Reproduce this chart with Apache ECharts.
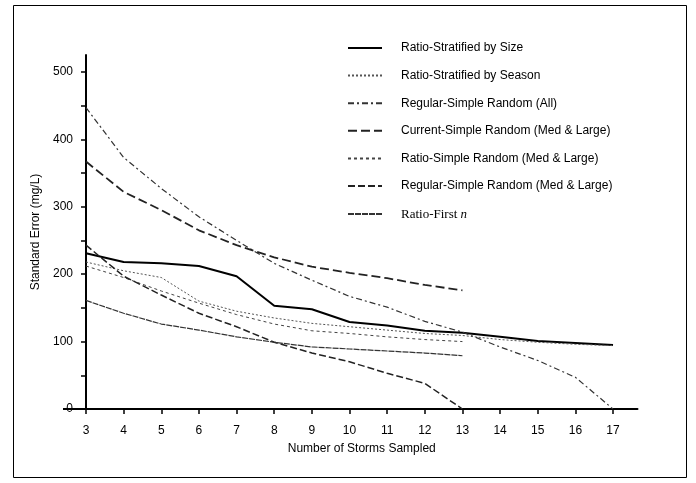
<!DOCTYPE html>
<html>
<head>
<meta charset="utf-8">
<script src="https://cdn.jsdelivr.net/npm/echarts@6/dist/echarts.min.js"></script>
<style>html,body{margin:0;padding:0;background:#fff;}#c{width:696px;height:483px;}</style>
</head>
<body>
<div id="c"></div>
<script>
const storms = [3,4,5,6,7,8,9,10,11,12,13,14,15,16,17];
const ratioStratSize   = [231,218,216,212,197,153,148,129,124,116,113,107,101,98,95];
const ratioStratSeason = [218,205,195,160,145,135,127,122,117,112,109,103,99,96,94];
const regularSRAll     = [447,373,327,285,250,216,191,167,151,130,114,92,72,47,0];
const currentSRML      = [367,322,295,265,243,225,211,202,194,184,176];
const ratioSRML        = [212,195,175,157,140,126,116,112,107,103,100];
const regularSRML      = [243,197,169,142,122,99,83,70,53,38,0];
const ratioFirstN      = [161,142,126,117,107,99,92,89,86,83,79];
const yTickValues  = [0,50,100,150,200,250,300,350,400,450,500];
const yLabelValues = [0,100,200,300,400,500];
const xTickValues  = [3,4,5,6,7,8,9,10,11,12,13,14,15,16,17];

function pairs(vals){ return vals.map((v,i)=>[storms[i], v]); }

const seriesDefs = [
  {name:'Ratio-Stratified by Size', data:ratioStratSize, color:'#000', width:2, type:'solid'},
  {name:'Ratio-Stratified by Season', data:ratioStratSeason, color:'#555', width:1, type:[2,2]},
  {name:'Regular-Simple Random (All)', data:regularSRAll, color:'#333', width:1.2, type:[6,3,2,3]},
  {name:'Current-Simple Random (Med & Large)', data:currentSRML, color:'#222', width:1.8, type:[9,4]},
  {name:'Ratio-Simple Random (Med & Large)', data:ratioSRML, color:'#444', width:1, type:[3,3]},
  {name:'Regular-Simple Random (Med & Large)', data:regularSRML, color:'#222', width:1.5, type:[7,3]},
  {name:'Ratio-First n', data:ratioFirstN, color:'#333', width:1.2, type:[6,1]}
];

const chart = echarts.init(document.getElementById('c'));
chart.setOption({
  backgroundColor:'#fff',
  animation:false,
  textStyle:{fontFamily:'Liberation Sans, Arial, sans-serif', color:'#000'},
  grid:{left:86, top:55, width:551.5, height:354, containLabel:false},
  legend:{
    orient:'vertical', left:342, top:37, itemWidth:34, itemHeight:14, itemGap:15.6,
    itemStyle:{opacity:0},
    textStyle:{fontSize:12, color:'#000', fontFamily:'Liberation Sans, Arial, sans-serif', padding:[0,0,0,14],
      rich:{s:{fontFamily:'Liberation Serif, Times New Roman, serif', fontSize:13, color:'#000'},
            i:{fontFamily:'Liberation Serif, Times New Roman, serif', fontSize:13, fontStyle:'italic', color:'#000'}}},
    formatter:function(n){ return n==='Ratio-First n' ? '{s|Ratio-First }{i|n}' : n; },
    data: seriesDefs.map(s=>s.name)
  },
  xAxis:{
    type:'value', min:3, max:17.65,
    name:'Number of Storms Sampled', nameLocation:'middle', nameGap:34,
    nameTextStyle:{fontSize:12, color:'#000'},
    axisLine:{lineStyle:{color:'#000', width:2}},
    axisTick:{show:true, customValues:xTickValues, length:5, inside:false, lineStyle:{color:'#000', width:1.5}},
    axisLabel:{customValues:xTickValues, fontSize:12, color:'#000', margin:16},
    splitLine:{show:false}
  },
  yAxis:{
    type:'value', min:0, max:525,
    name:'Standard Error (mg/L)', nameLocation:'middle', nameGap:40,
    nameTextStyle:{fontSize:12, color:'#000'},
    axisLine:{show:true, lineStyle:{color:'#000', width:2}},
    axisTick:{show:true, customValues:yTickValues, length:5, lineStyle:{color:'#000', width:1.5}},
    axisLabel:{customValues:yLabelValues, fontSize:12, color:'#000', margin:13},
    splitLine:{show:false}
  },
  graphic:[
    {type:'rect', shape:{x:13.5, y:5.5, width:673, height:472}, style:{fill:'none', stroke:'#000', lineWidth:1}, silent:true, z:-1},
    {type:'line', shape:{x1:63, y1:409, x2:86, y2:409}, style:{stroke:'#000', lineWidth:2}, silent:true}
  ],
  series: seriesDefs.map(s=>({
    name:s.name, type:'line', data:pairs(s.data), symbol:'none', smooth:false,
    lineStyle:{color:s.color, width:s.width, type:s.type},
    itemStyle:{color:s.color}
  }))
});
</script>
</body>
</html>
